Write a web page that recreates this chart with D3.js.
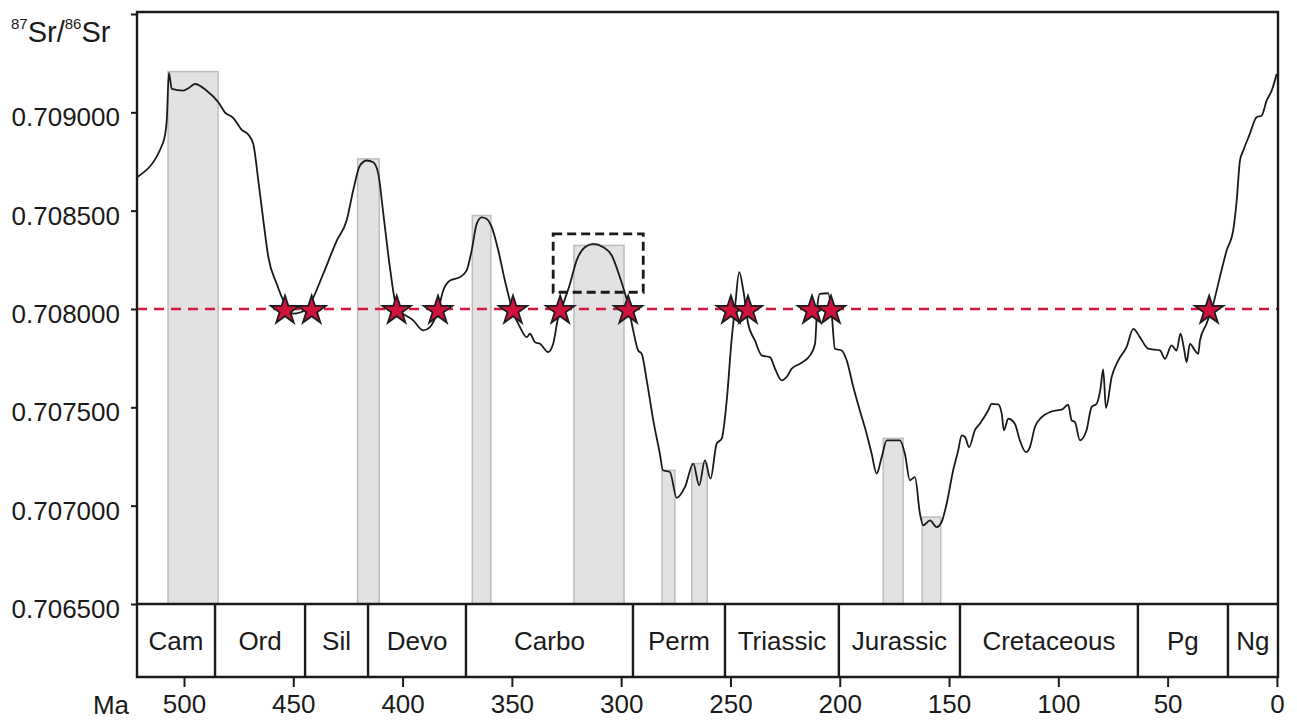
<!DOCTYPE html>
<html>
<head>
<meta charset="utf-8">
<script src="https://cdn.jsdelivr.net/npm/d3@7/dist/d3.min.js"></script>
<style>
  html, body { margin: 0; padding: 0; background: #fff; }
  svg { display: block; font-family: "Liberation Sans", Arial, Helvetica, sans-serif; }
</style>
</head>
<body>
<svg id="chart" width="1297" height="720"></svg>
<script>
// ---- Data ----
const ageMa = [521.5, 509.5, 507.9, 506.9, 505.6, 500.3, 498.0, 495.0, 489.6, 484.3, 481.3, 477.5, 473.6, 470.6, 468.3, 466.0, 463.7, 461.4, 457.6, 453.8, 450.0, 446.9, 442.4, 436.3, 430.1, 425.6, 422.6, 419.5, 416.4, 413.4, 411.1, 408.8, 405.8, 402.7, 395.1, 390.5, 387.5, 383.8, 381.4, 378.3, 373.7, 370.7, 368.4, 366.1, 363.8, 361.5, 359.2, 356.2, 353.2, 349.4, 346.3, 343.2, 341.7, 339.4, 337.1, 333.4, 331.1, 328.8, 326.5, 323.4, 320.4, 316.6, 312.8, 308.2, 304.3, 300.6, 296.8, 294.5, 292.2, 290.6, 288.3, 285.3, 282.3, 280.9, 277.7, 274.6, 270.8, 267.0, 264.3, 261.7, 259.1, 256.3, 254.0, 251.7, 249.5, 247.9, 246.0, 244.1, 241.9, 238.8, 235.7, 231.9, 229.6, 226.6, 224.3, 222.0, 218.2, 213.6, 211.3, 210.3, 209.1, 205.3, 203.7, 202.2, 199.1, 196.8, 193.8, 190.8, 187.7, 185.4, 183.1, 180.8, 178.5, 172.5, 170.2, 167.9, 165.6, 163.3, 161.8, 158.7, 155.7, 153.4, 151.1, 148.1, 145.8, 144.2, 142.7, 140.8, 138.2, 135.9, 132.1, 130.5, 127.5, 125.9, 124.9, 122.9, 119.9, 117.6, 114.8, 113.0, 110.7, 107.6, 103.8, 100.8, 98.5, 95.5, 93.9, 92.4, 90.1, 87.1, 84.8, 82.5, 80.7, 79.5, 78.2, 75.6, 72.6, 68.8, 65.7, 62.7, 58.9, 53.5, 51.2, 48.2, 45.9, 44.1, 42.5, 41.3, 39.8, 37.5, 36.0, 35.2, 32.2, 29.1, 26.1, 23.0, 20.0, 18.4, 16.9, 15.4, 12.4, 9.3, 7.0, 4.7, 2.4, 0.1];
const srRatio = [0.708670, 0.708848, 0.708958, 0.709200, 0.709119, 0.709110, 0.709122, 0.709144, 0.709110, 0.709051, 0.709000, 0.708972, 0.708911, 0.708887, 0.708839, 0.708653, 0.708450, 0.708263, 0.708128, 0.708026, 0.707976, 0.707982, 0.708026, 0.708179, 0.708348, 0.708450, 0.708602, 0.708729, 0.708755, 0.708746, 0.708687, 0.708484, 0.708212, 0.708009, 0.707942, 0.707891, 0.707908, 0.707992, 0.708094, 0.708145, 0.708162, 0.708196, 0.708297, 0.708433, 0.708466, 0.708458, 0.708416, 0.708297, 0.708145, 0.707984, 0.707908, 0.707857, 0.707874, 0.707831, 0.707823, 0.707781, 0.707823, 0.707958, 0.708026, 0.708128, 0.708246, 0.708314, 0.708331, 0.708314, 0.708272, 0.708162, 0.708018, 0.707891, 0.707789, 0.707772, 0.707637, 0.707434, 0.707264, 0.707180, 0.707171, 0.707040, 0.707095, 0.707214, 0.707103, 0.707230, 0.707137, 0.707315, 0.707341, 0.707535, 0.707840, 0.708009, 0.708187, 0.708094, 0.707925, 0.707840, 0.707764, 0.707755, 0.707696, 0.707637, 0.707654, 0.707696, 0.707722, 0.707764, 0.707823, 0.708009, 0.708077, 0.708080, 0.707976, 0.707798, 0.707789, 0.707738, 0.707603, 0.707484, 0.707366, 0.707264, 0.707163, 0.707247, 0.707332, 0.707332, 0.707264, 0.707129, 0.707145, 0.706959, 0.706900, 0.706925, 0.706891, 0.706917, 0.707010, 0.707180, 0.707281, 0.707357, 0.707349, 0.707298, 0.707383, 0.707417, 0.707484, 0.707518, 0.707515, 0.707468, 0.707383, 0.707442, 0.707417, 0.707332, 0.707272, 0.707298, 0.707400, 0.707450, 0.707476, 0.707484, 0.707488, 0.707513, 0.707434, 0.707425, 0.707332, 0.707383, 0.707501, 0.707518, 0.707595, 0.707693, 0.707497, 0.707654, 0.707738, 0.707806, 0.707899, 0.707857, 0.707798, 0.707789, 0.707747, 0.707815, 0.707789, 0.707874, 0.707798, 0.707730, 0.707823, 0.707789, 0.707772, 0.707840, 0.707925, 0.708026, 0.708162, 0.708297, 0.708399, 0.708551, 0.708755, 0.708805, 0.708890, 0.708975, 0.708983, 0.709059, 0.709110, 0.709195];

const periodNames = ["Cam", "Ord", "Sil", "Devo", "Carbo", "Perm", "Triassic", "Jurassic", "Cretaceous", "Pg", "Ng"];
const periodBounds = [521.5, 485.8, 444.6, 415.8, 371.0, 294.6, 252.5, 200.4, 145.0, 63.6, 22.4, -0.5];

const barStart = [507.3, 420.6, 368.1, 321.6, 281.3, 267.7, 180.1, 162.3];
const barEnd   = [484.4, 410.7, 359.6, 298.7, 275.4, 260.6, 171.0, 153.8];
const barTop   = [0.709207, 0.708763, 0.708475, 0.708323, 0.707180, 0.707214, 0.707342, 0.706942];

const starAge = [453.8, 441.6, 402.7, 383.8, 349.5, 327.9, 296.8, 249.8, 242.0, 212.7, 204.0, 31.0];
const thresholdValue = 0.708;

const boxAge = [331.1, 289.9];
const boxValue = [0.708085, 0.708382];

const yTicks = [0.7065, 0.707, 0.7075, 0.708, 0.7085, 0.709, 0.7095];
const xTicks = [500, 450, 400, 350, 300, 250, 200, 150, 100, 50, 0];

// ---- Layout ----
const L = 137, R = 1278, T = 12, B = 604, PB = 677;
const svg = d3.select("#chart");
const x = d3.scaleLinear().domain([521.5, -0.5]).range([L, R]);
const y = d3.scaleLinear().domain([0.7065, 0.70951]).range([B, T]);
const ink = "#1a1a1a";

// grey bars
svg.append("g").selectAll("rect").data(barStart).join("rect")
  .attr("x", (d, i) => x(d))
  .attr("width", (d, i) => x(barEnd[i]) - x(d))
  .attr("y", (d, i) => y(barTop[i]))
  .attr("height", (d, i) => B - y(barTop[i]))
  .attr("fill", "#e2e2e2")
  .attr("stroke", "#bdbdbd")
  .attr("stroke-width", 1.5);

// threshold line
svg.append("line")
  .attr("x1", L).attr("x2", R)
  .attr("y1", y(thresholdValue)).attr("y2", y(thresholdValue))
  .attr("stroke", "#d6173f").attr("stroke-width", 2.5)
  .attr("stroke-dasharray", "10,7");

// dashed box
svg.append("rect")
  .attr("x", x(boxAge[0])).attr("y", y(boxValue[1]))
  .attr("width", x(boxAge[1]) - x(boxAge[0]))
  .attr("height", y(boxValue[0]) - y(boxValue[1]))
  .attr("fill", "none").attr("stroke", ink)
  .attr("stroke-width", 2.8).attr("stroke-dasharray", "9,5");

// curve
const line = d3.line().x(d => x(d[0])).y(d => y(d[1])).curve(d3.curveMonotoneX);
svg.append("path")
  .datum(ageMa.map((a, i) => [a, srRatio[i]]))
  .attr("d", line)
  .attr("fill", "none").attr("stroke", ink)
  .attr("stroke-width", 1.8).attr("stroke-linejoin", "round");

// stars
const star = d3.symbol().type(d3.symbolStar).size(250);
svg.append("g").selectAll("path").data(starAge).join("path")
  .attr("d", star)
  .attr("transform", d => `translate(${x(d)},${y(thresholdValue) + 1.5})`)
  .attr("fill", "#d0123c").attr("stroke", "#1d1d1d").attr("stroke-width", 1.8)
  .attr("stroke-linejoin", "miter");

// frame
const frame = svg.append("g").attr("fill", "none").attr("stroke", ink).attr("stroke-width", 2.4);
frame.append("path").attr("d", `M${L},${T}H${R}V${PB}H${L}Z`);
frame.append("line").attr("x1", L).attr("x2", R).attr("y1", B).attr("y2", B);

// period boxes
svg.append("g").selectAll("line").data(periodBounds.slice(1, -1)).join("line")
  .attr("x1", d => x(d)).attr("x2", d => x(d))
  .attr("y1", B).attr("y2", PB)
  .attr("stroke", ink).attr("stroke-width", 2.4);
svg.append("g").selectAll("text").data(periodNames).join("text")
  .attr("x", (d, i) => (x(periodBounds[i]) + x(periodBounds[i + 1])) / 2)
  .attr("y", (B + PB) / 2 + 9)
  .attr("text-anchor", "middle")
  .attr("font-size", 26).attr("fill", ink)
  .text(d => d);

// y axis
const yAxis = d3.axisLeft(y).tickValues(yTicks).tickSize(6).tickPadding(10)
  .tickFormat(d => d === 0.7095 ? "" : d3.format(".6f")(d));
const gy = svg.append("g").attr("transform", `translate(${L},0)`).call(yAxis);
gy.select(".domain").remove();
gy.selectAll(".tick line").attr("stroke", ink).attr("stroke-width", 2);
gy.selectAll(".tick text").attr("font-size", 26).attr("fill", ink)
  .attr("font-family", "'Liberation Sans', Arial, sans-serif").attr("dy", "0.52em")
  .attr("x", -17);

// x axis
const xAxis = d3.axisBottom(x).tickValues(xTicks).tickSize(10).tickPadding(10)
  .tickFormat(d3.format("d"));
const gx = svg.append("g").attr("transform", `translate(0,${PB})`).call(xAxis);
gx.select(".domain").remove();
gx.selectAll(".tick line").attr("stroke", ink).attr("stroke-width", 2);
gx.selectAll(".tick text").attr("font-size", 26).attr("fill", ink)
  .attr("font-family", "'Liberation Sans', Arial, sans-serif")
  .attr("dy", "0.71em").attr("y", 18);

svg.append("text").attr("x", 111).attr("y", 714).attr("text-anchor", "middle")
  .attr("font-size", 26).attr("fill", ink).text("Ma");

// title 87Sr/86Sr
const title = svg.append("text").attr("x", 11).attr("y", 42).attr("fill", ink);
title.append("tspan").attr("font-size", 15).attr("dy", -13).text("87");
title.append("tspan").attr("font-size", 29).attr("dy", 13).text("Sr/");
title.append("tspan").attr("font-size", 15).attr("dy", -13).text("86");
title.append("tspan").attr("font-size", 29).attr("dy", 13).text("Sr");
</script>
</body>
</html>
